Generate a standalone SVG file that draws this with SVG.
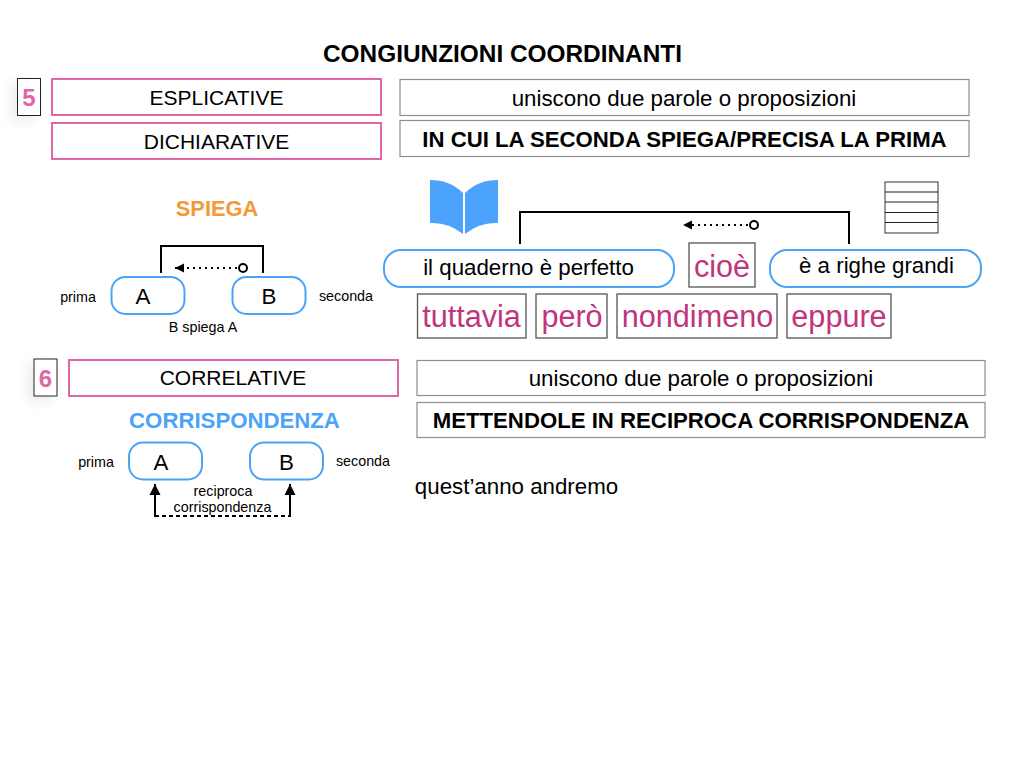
<svg xmlns="http://www.w3.org/2000/svg" width="1024" height="768" viewBox="0 0 1024 768">
<defs>
<marker id="tri" markerUnits="userSpaceOnUse" markerWidth="10" markerHeight="10" refX="9" refY="5" orient="auto"><path d="M0,0.500 L9,5 L0,9.500 Z" fill="#000"/></marker>
<marker id="up" markerUnits="userSpaceOnUse" markerWidth="12" markerHeight="12" refX="11" refY="6" orient="auto"><path d="M0,0.500 L11,6 L0,11.500 Z" fill="#000"/></marker>
<marker id="dot" markerUnits="userSpaceOnUse" markerWidth="12" markerHeight="12" refX="6" refY="6"><circle cx="6" cy="6" r="4" fill="#fff" stroke="#000" stroke-width="2"/></marker>
<filter id="sh" x="-100%" y="-60%" width="300%" height="220%"><feDropShadow dx="-6" dy="5" stdDeviation="6" flood-color="#000" flood-opacity="0.07"/></filter>
</defs>
<style>
text{font-family:"Liberation Sans",Arial,sans-serif;text-anchor:middle;fill:#000}
.pink{fill:#fff;stroke:#e066a5;stroke-width:2}
.gray{fill:#fff;stroke:#8e8e8e;stroke-width:1.2}
.num{fill:#fff;stroke:#222;stroke-width:1}
.pill{fill:#fff;stroke:#4ba3f5;stroke-width:2}
.word{fill:#fff;stroke:#555;stroke-width:1.3}
.cap{font-size:21px}
.big{font-size:22.3px}
.hb{font-size:22.2px;font-weight:bold}
.b{font-weight:bold}
.sm{font-size:14.3px}
.mag{font-size:30.6px;fill:#c0357c}
.ln{fill:none;stroke:#000;stroke-width:2}
.dots{fill:none;stroke:#000;stroke-width:2;stroke-dasharray:2 4}
.rule{stroke:#222;stroke-width:1}
</style>
<rect width="1024" height="768" fill="#fff"/>
<text id="title" class="b" x="502.500" y="62" style="font-size:24.4px">CONGIUNZIONI COORDINANTI</text>

<g id="connectors">
<path class="ln" d="M161,273 V246 H263 V273"/>
<path class="dots" d="M243,268 H175" marker-start="url(#dot)" marker-end="url(#tri)"/>
<path class="ln" d="M520,244 V212 H849 V244"/>
<path class="dots" d="M754,225 H683" marker-start="url(#dot)" marker-end="url(#tri)"/>
<path class="ln" d="M155,517 V484" marker-end="url(#up)"/>
<path class="ln" d="M290,517 V484" marker-end="url(#up)"/>
<path fill="none" stroke="#000" stroke-width="2" stroke-dasharray="4 3" d="M155,516 H290"/>
</g>

<g id="n5"><rect class="num" x="17.500" y="78.500" width="23" height="37" filter="url(#sh)"/><text class="b" x="29" y="106" style="font-size:24px;fill:#e066a5">5</text></g>
<g id="esplicative"><rect class="pink" x="52" y="79" width="329" height="36"/><text class="cap" x="216.500" y="105">ESPLICATIVE</text></g>
<g id="dichiarative"><rect class="pink" x="52" y="123" width="329" height="36"/><text class="cap" x="216.500" y="149">DICHIARATIVE</text></g>
<g id="desc1"><rect class="gray" x="400" y="79.500" width="569" height="36"/><text class="big" x="684" y="106">uniscono due parole o proposizioni</text></g>
<g id="desc2"><rect class="gray" x="400" y="120.500" width="569" height="36"/><text class="hb" x="684.500" y="147">IN CUI LA SECONDA SPIEGA/PRECISA LA PRIMA</text></g>

<text id="spiega" class="b" x="217" y="216" style="font-size:21.8px;fill:#f29a38">SPIEGA</text>
<g id="a1"><rect class="pill" x="111.500" y="277" width="73" height="37" rx="14"/><text class="big" x="143" y="304">A</text></g>
<g id="b1"><rect class="pill" x="232.500" y="277" width="73" height="37" rx="14"/><text class="big" x="269" y="304">B</text></g>
<text class="sm" x="78" y="302">prima</text>
<text class="sm" x="346" y="301">seconda</text>
<text class="sm" x="203" y="332">B spiega A</text>

<g id="book" fill="#4ba3fb">
<path d="M430,180 Q450,180 463,193 V234 Q448,222 430,223 Z"/>
<path d="M498,180 Q478,180 465,193 V234 Q480,222 498,223 Z"/>
</g>
<g id="lines" fill="none">
<rect x="885" y="182" width="53" height="51" stroke="#333" stroke-width="1"/>
<path class="rule" d="M885,192 H938 M885,202 H938 M885,212.500 H938 M885,222.500 H938"/>
</g>

<g id="p1"><rect class="pill" x="384" y="250" width="290" height="37" rx="17"/><text class="big" x="528.500" y="275">il quaderno è perfetto</text></g>
<g id="c1"><rect class="word" x="689" y="243" width="66" height="44"/><text class="mag" x="722" y="277">cioè</text></g>
<g id="p2"><rect class="pill" x="770" y="250" width="211" height="37" rx="17"/><text class="big" x="876.500" y="273">è a righe grandi</text></g>
<g id="w1"><rect class="word" x="417.500" y="294" width="108.500" height="44"/><text class="mag" x="471.500" y="327">tuttavia</text></g>
<g id="w2"><rect class="word" x="536" y="294" width="71" height="44"/><text class="mag" x="572" y="327">però</text></g>
<g id="w3"><rect class="word" x="617" y="294" width="160" height="44"/><text class="mag" x="697.500" y="327">nondimeno</text></g>
<g id="w4"><rect class="word" x="787" y="294" width="104" height="44"/><text class="mag" x="839" y="327">eppure</text></g>

<g id="n6"><rect class="num" x="34" y="359" width="23" height="37" filter="url(#sh)"/><text class="b" x="45.500" y="387" style="font-size:24px;fill:#e066a5">6</text></g>
<g id="correlative"><rect class="pink" x="69" y="360" width="329" height="36"/><text class="cap" x="233" y="385">CORRELATIVE</text></g>
<g id="desc3"><rect class="gray" x="417" y="360.500" width="568" height="35"/><text class="big" x="701" y="386">uniscono due parole o proposizioni</text></g>
<g id="desc4"><rect class="gray" x="417" y="402.500" width="568" height="35"/><text class="hb" x="701" y="428">METTENDOLE IN RECIPROCA CORRISPONDENZA</text></g>

<text id="corr" class="b" x="234.500" y="428" style="font-size:22.2px;fill:#4ba3fb">CORRISPONDENZA</text>
<g id="a2"><rect class="pill" x="129" y="442.500" width="73" height="37" rx="14"/><text class="big" x="161" y="470">A</text></g>
<g id="b2"><rect class="pill" x="250" y="442.500" width="73" height="37" rx="14"/><text class="big" x="286.500" y="470">B</text></g>
<text class="sm" x="96" y="467">prima</text>
<text class="sm" x="363" y="466">seconda</text>
<text class="sm" x="223" y="496">reciproca</text>
<text class="sm" x="222.500" y="512">corrispondenza</text>
<text id="quest" class="big" x="516.500" y="494">quest’anno andremo</text>
</svg>
